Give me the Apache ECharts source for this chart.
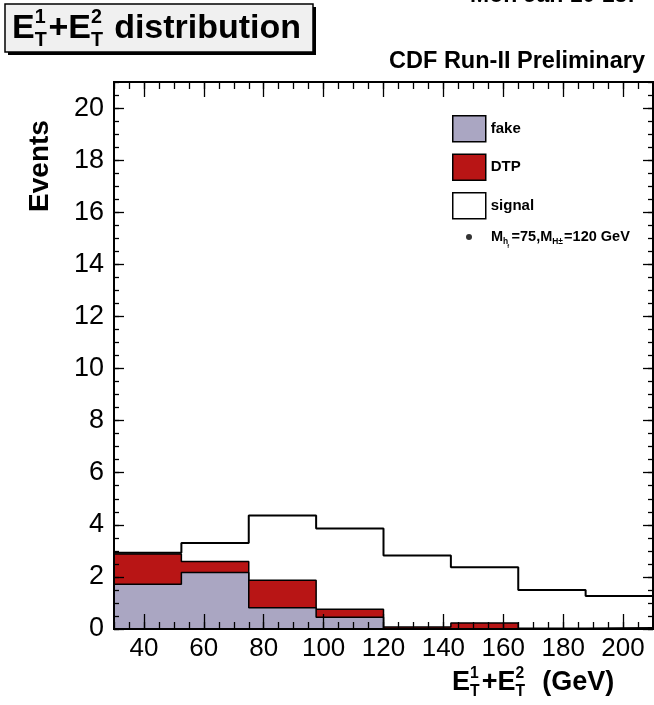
<!DOCTYPE html>
<html><head><meta charset="utf-8">
<script src="https://cdn.jsdelivr.net/npm/echarts@6/dist/echarts.min.js"></script>
<style>html,body{margin:0;padding:0;background:#fff}#c{width:654px;height:705px}</style>
</head><body><div id="c"></div>
<script>
// ---- data ----
const binEdges = [30, 52.5, 75, 97.5, 120, 142.5, 165, 187.5, 210];
const fakeEvents = [1.72, 2.17, 0.82, 0.45, 0, 0, 0, 0];
const dtpEvents = [1.16, 0.42, 1.05, 0.31, 0.08, 0.23, 0.03, 0.05];
const signalEvents = [2.93, 3.30, 4.36, 3.86, 2.82, 2.37, 1.50, 1.27];
const xTickLabels = [40, 60, 80, 100, 120, 140, 160, 180, 200];
const yTickLabels = [0, 2, 4, 6, 8, 10, 12, 14, 16, 18, 20];
const xRange = [30, 210];
const yRange = [0, 21];
const seriesNames = ['fake', 'DTP', 'signal'];

// ---- style ----
const FF = '"Liberation Sans", Arial, Helvetica, sans-serif';
const fakeColor = '#aaa6c2';
const dtpColor = '#b81515';

function steps(vals) {
  const d = vals.map((v, i) => [binEdges[i], v]);
  d.push([binEdges[vals.length], vals[vals.length - 1]]);
  return d;
}
const totalEvents = fakeEvents.map((v, i) => v + dtpEvents[i]);

const xMinor = [], yMinor = [];
for (let v = xRange[0]; v <= xRange[1]; v += 5) xMinor.push(v);
for (let v = yRange[0]; v <= yRange[1]; v += 0.5) yMinor.push(v);

function xAx(pos, vals, len, labels) {
  return {
    type: 'value', min: xRange[0], max: xRange[1], position: pos, z: 5,
    axisLine: { show: true, onZero: false, lineStyle: { color: '#000', width: 2 } },
    splitLine: { show: false },
    axisTick: { show: true, inside: true, length: len, customValues: vals, lineStyle: { color: '#000', width: 1.3 } },
    axisLabel: labels ? { show: true, customValues: vals, fontSize: 26, color: '#000', fontFamily: FF, margin: 7 } : { show: false }
  };
}
function yAx(pos, vals, len, labels) {
  return {
    type: 'value', min: yRange[0], max: yRange[1], position: pos, z: 5,
    axisLine: { show: true, onZero: false, lineStyle: { color: '#000', width: 2 } },
    splitLine: { show: false },
    axisTick: { show: true, inside: true, length: len, customValues: vals, lineStyle: { color: '#000', width: 1.3 } },
    axisLabel: labels ? { show: true, customValues: vals, fontSize: 27, color: '#000', fontFamily: FF, margin: 10 } : { show: false }
  };
}

// ---- text helper with sub/superscripts ----
const mctx = document.createElement('canvas').getContext('2d');
function tw(t, size, weight) { mctx.font = weight + ' ' + size + 'px ' + FF; return mctx.measureText(t).width; }
function txt(t, x, y, size, weight) {
  return { type: 'text', x: x, y: y, z: 20, style: { text: t, fill: '#000', font: weight + ' ' + size + 'px ' + FF, align: 'left', verticalAlign: 'middle', textAlign: 'left', textVerticalAlign: 'middle' } };
}
function mathText(parts, x, yc, size, weight, els, gap) {
  let cx = x;
  const small = size * 0.58;
  const g = gap == null ? 0.08 : gap;
  for (const p of parts) {
    if (typeof p === 'string') {
      els.push(txt(p, cx, yc, size, weight));
      cx += tw(p, size, weight);
    } else {
      let wmax = 0;
      if (p.sup) { els.push(txt(p.sup, cx, yc - size * 0.34, small, weight)); wmax = Math.max(wmax, tw(p.sup, small, weight)); }
      if (p.sub) { els.push(txt(p.sub, cx, yc + size * 0.34, small, weight)); wmax = Math.max(wmax, tw(p.sub, small, weight)); }
      if (p.sub2) { els.push(txt(p.sub2, cx + tw(p.sub, small, weight) * 0.8, yc + size * 0.62, size * 0.38, weight)); wmax += size * 0.15; }
      cx += wmax + size * g;
    }
  }
  return cx - x;
}

const els = [];
// title box
els.push({ type: 'rect', z: 10, shape: { x: 8, y: 7, width: 308, height: 48 }, style: { fill: '#000' } });
els.push({ type: 'rect', z: 11, shape: { x: 5, y: 4, width: 308, height: 48 }, style: { fill: '#f0f0f0', stroke: '#000', lineWidth: 1.5 } });
mathText(['E', { sup: '1', sub: 'T' }, '+E', { sup: '2', sub: 'T' }, ' distribution'], 12, 29, 34, 'bold', els, 0.05);
// CDF label
const cdf = 'CDF Run-II Preliminary';
els.push(txt(cdf, 645 - tw(cdf, 23.5, 'bold'), 62, 23.5, 'bold'));
// partial date at very top right
const dt = 'Mon Jan 10 13:';
els.push(txt(dt, 470, -4, 23, 'bold'));
// x axis title
mathText(['E', { sup: '1', sub: 'T' }, '+E', { sup: '2', sub: 'T' }, '  (GeV)'], 452, 683, 27, 'bold', els);
// y axis title
els.push({ type: 'text', x: 40, y: 166, rotation: Math.PI / 2, z: 20, style: { text: 'Events', fill: '#000', font: 'bold 28px ' + FF, align: 'center', verticalAlign: 'middle', textAlign: 'center', textVerticalAlign: 'middle' } });
// mass legend text
mathText(['M', { sub: 'h', sub2: 'f' }, '=75,M', { sub: 'H\u00b1' }, '=120 GeV'], 491, 237, 14.5, 'bold', els);

const chart = echarts.init(document.getElementById('c'), null, { renderer: 'canvas' });
chart.setOption({
  animation: false,
  backgroundColor: '#fff',
  grid: { left: 114, top: 82, right: 1, bottom: 76, show: false, containLabel: false },
  xAxis: [xAx('bottom', xTickLabels, 15, true), xAx('bottom', xMinor, 7, false), xAx('top', xTickLabels, 15, false), xAx('top', xMinor, 7, false)],
  yAxis: [yAx('left', yTickLabels, 10, true), yAx('left', yMinor, 5, false), yAx('right', yTickLabels, 10, false), yAx('right', yMinor, 5, false)],
  legend: [
    {
      data: [
        { name: seriesNames[0], icon: 'rect', itemStyle: { color: fakeColor, borderColor: '#000', borderWidth: 1.5 } },
        { name: seriesNames[1], icon: 'rect', itemStyle: { color: dtpColor, borderColor: '#000', borderWidth: 1.5 } },
        { name: seriesNames[2], icon: 'rect', itemStyle: { color: '#fff', borderColor: '#000', borderWidth: 1.5 } }
      ],
      orient: 'vertical', left: 452, top: 115, itemWidth: 33, itemHeight: 26, itemGap: 11, padding: 0,
      selectedMode: false,
      textStyle: { fontFamily: FF, fontWeight: 'bold', fontSize: 15, color: '#000' }
    },
    {
      data: [{ name: 'mass', icon: 'circle', itemStyle: { color: '#000' } }],
      left: 466, top: 234, itemWidth: 6, itemHeight: 6, padding: 0, selectedMode: false,
      formatter: function () { return ''; }
    }
  ],
  series: [
    {
      name: seriesNames[1], type: 'line', step: 'end', data: steps(totalEvents), symbol: 'none', z: 2,
      itemStyle: { color: dtpColor }, lineStyle: { color: '#000', width: 1.5 }, areaStyle: { color: dtpColor, opacity: 1 }
    },
    {
      name: seriesNames[0], type: 'line', step: 'end', data: steps(fakeEvents), symbol: 'none', z: 3,
      itemStyle: { color: fakeColor }, lineStyle: { color: '#000', width: 1.5 }, areaStyle: { color: fakeColor, opacity: 1 }
    },
    {
      name: seriesNames[2], type: 'line', step: 'end', data: steps(signalEvents), symbol: 'none', z: 4,
      itemStyle: { color: '#fff' }, lineStyle: { color: '#000', width: 2 }
    },
    { name: 'mass', type: 'scatter', data: [], itemStyle: { color: '#000' } }
  ],
  graphic: { elements: els }
});
</script>
</body></html>
